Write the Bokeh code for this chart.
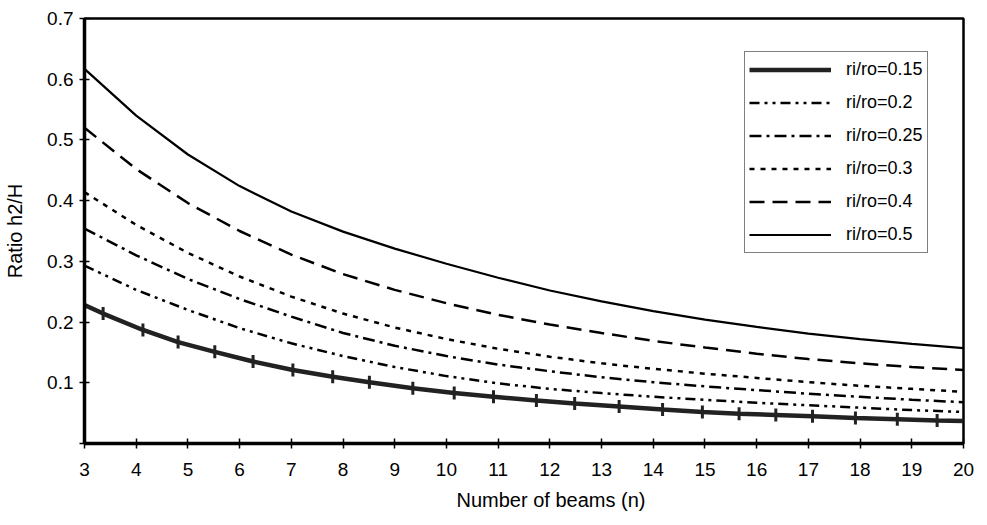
import math
from bokeh.plotting import figure
from bokeh.models import FixedTicker, Legend, LegendItem, Range1d, Title
from bokeh.embed import file_html
from bokeh.resources import INLINE

# ---- data ----
n_beams = list(range(3, 21))
ratio_050 = [0.617, 0.540, 0.476, 0.424, 0.382, 0.349, 0.321, 0.296, 0.273, 0.252,
             0.234, 0.218, 0.204, 0.192, 0.181, 0.172, 0.164, 0.157]
ratio_040 = [0.520, 0.452, 0.396, 0.350, 0.311, 0.279, 0.253, 0.231, 0.212, 0.196,
             0.182, 0.169, 0.158, 0.148, 0.139, 0.132, 0.126, 0.121]
ratio_030 = [0.414, 0.360, 0.314, 0.275, 0.242, 0.214, 0.191, 0.172, 0.156, 0.143,
             0.132, 0.123, 0.115, 0.108, 0.101, 0.095, 0.090, 0.085]
ratio_025 = [0.354, 0.310, 0.271, 0.238, 0.209, 0.182, 0.161, 0.144, 0.130, 0.119,
             0.109, 0.101, 0.094, 0.088, 0.082, 0.077, 0.072, 0.068]
ratio_020 = [0.293, 0.253, 0.220, 0.190, 0.165, 0.144, 0.126, 0.111, 0.099, 0.090,
             0.083, 0.077, 0.072, 0.067, 0.063, 0.059, 0.055, 0.052]
n_marks = [3.0, 3.36, 4.13, 4.81, 5.52, 6.26, 7.03, 7.80, 8.51, 9.35, 10.15, 10.91,
           11.74, 12.48, 13.34, 14.18, 14.95, 15.66, 16.37, 17.08, 17.91, 18.72, 19.49, 20.0]
ratio_015 = [0.228, 0.214, 0.187, 0.167, 0.151, 0.135, 0.121, 0.110, 0.101, 0.091, 0.083, 0.077,
             0.071, 0.066, 0.061, 0.056, 0.052, 0.049, 0.047, 0.045, 0.042, 0.040, 0.038, 0.037]
x_ticks = list(range(3, 21))
y_ticks = [0.0, 0.1, 0.2, 0.3, 0.4, 0.5, 0.6, 0.7]
labels = ["ri/ro=0.15", "ri/ro=0.2", "ri/ro=0.25", "ri/ro=0.3", "ri/ro=0.4", "ri/ro=0.5"]
x_title = "Number of beams (n)"
y_title = "Ratio h2/H"

FONT = "Liberation Sans"

p = figure(width=985, height=523, output_backend="svg", toolbar_location=None,
           x_range=Range1d(3, 20), y_range=Range1d(0, 0.7),
           min_border_left=84, min_border_right=22, min_border_top=18, min_border_bottom=80)
p.grid.visible = False
p.outline_line_color = "black"
p.outline_line_width = 2.5
p.background_fill_color = "white"

# axes
p.xaxis.ticker = FixedTicker(ticks=x_ticks)
p.yaxis.ticker = FixedTicker(ticks=y_ticks)
p.yaxis.major_label_overrides = {0: ""}
for ax in (p.xaxis[0], p.yaxis[0]):
    ax.axis_line_width = 3.5
    ax.axis_line_color = "black"
    ax.major_tick_in = 5
    ax.major_tick_out = 5
    ax.major_tick_line_width = 1.5
    ax.minor_tick_line_color = None
    ax.major_label_text_font = FONT
    ax.major_label_text_font_size = "19px"
    ax.major_label_text_color = "black"
p.xaxis.major_label_standoff = 14
p.yaxis.major_label_standoff = 6

p.yaxis.axis_label = y_title
p.yaxis.axis_label_text_font = FONT
p.yaxis.axis_label_text_font_size = "20px"
p.yaxis.axis_label_text_font_style = "normal"
p.yaxis.axis_label_text_color = "black"
p.yaxis.axis_label_standoff = 18

xt = Title(text=x_title, align="left", offset=372, standoff=16,
           text_font=FONT, text_font_size="20px", text_font_style="normal", text_color="black")
p.add_layout(xt, "below")

# series
r015 = p.line(n_marks, ratio_015, line_color="#222222", line_width=4.5)
m015 = p.scatter(n_marks[1:-1], ratio_015[1:-1], marker="dash", angle=math.pi / 2,
                 size=13, line_color="#222222", line_width=3)
r020 = p.line(n_beams, ratio_020, line_color="black", line_width=2.5, line_dash="10 5 3 5 3 5")
r025 = p.line(n_beams, ratio_025, line_color="black", line_width=2.5, line_dash="12 5 3 5")
r030 = p.line(n_beams, ratio_030, line_color="black", line_width=2.5, line_dash="5 6")
r040 = p.line(n_beams, ratio_040, line_color="black", line_width=2.5, line_dash="15 8")
r050 = p.line(n_beams, ratio_050, line_color="black", line_width=2.2)

items = [
    LegendItem(label=labels[0], renderers=[r015, m015]),
    LegendItem(label=labels[1], renderers=[r020]),
    LegendItem(label=labels[2], renderers=[r025]),
    LegendItem(label=labels[3], renderers=[r030]),
    LegendItem(label=labels[4], renderers=[r040]),
    LegendItem(label=labels[5], renderers=[r050]),
]
legend = Legend(items=items, location=(660, 190))
legend.border_line_color = "black"
legend.border_line_width = 1.5
legend.background_fill_color = "white"
legend.background_fill_alpha = 1.0
legend.label_text_font = FONT
legend.label_text_font_size = "18px"
legend.label_text_color = "black"
legend.glyph_width = 82
legend.glyph_height = 27
legend.label_height = 27
legend.label_standoff = 15
legend.spacing = 6
legend.padding = 4
legend.margin = 0
p.add_layout(legend, "center")

open("out.html", "w").write(file_html(p, INLINE))
